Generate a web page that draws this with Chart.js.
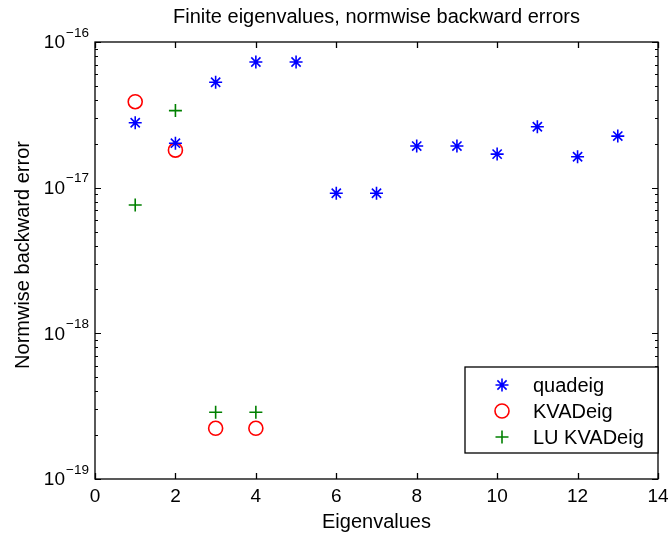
<!DOCTYPE html>
<html>
<head>
<meta charset="utf-8">
<script src="https://cdn.jsdelivr.net/npm/chart.js@4.4.0/dist/chart.umd.min.js"></script>
<style>
  body { margin: 0; background: #fff; }
  #wrap { width: 670px; height: 534px; }
</style>
</head>
<body>
<div id="wrap"><canvas id="errs"></canvas></div>
<script>
// data
var eigIdx = [1, 2, 3, 4, 5, 6, 7, 8, 9, 10, 11, 12, 13]
var quadeigErr = [2.79e-17, 2.02e-17, 5.29e-17, 7.29e-17, 7.29e-17, 9.15e-18, 9.15e-18, 1.93e-17, 1.93e-17, 1.70e-17, 2.62e-17, 1.63e-17, 2.26e-17]
var kvaIdx = [1, 2, 3, 4]
var kvadeigErr = [3.89e-17, 1.81e-17, 2.23e-19, 2.23e-19]
var luKvadeigErr = [7.6e-18, 3.38e-17, 2.87e-19, 2.87e-19]
var xTicks = [0, 2, 4, 6, 8, 10, 12, 14]
var yDecades = [-19, -18, -17, -16]
var seriesNames = ['quadeig', 'KVADeig', 'LU KVADeig']

var FONT = '"Liberation Sans", Arial, Helvetica, sans-serif'

function pts(xs, ys) {
	var out = []
	for (var i = 0; i < xs.length; i++) out.push({ x: xs[i], y: ys[i] })
	return out
}

// draw a marker the same way the datasets look (used for the legend)
function marker(ctx, style, color, x, y, r) {
	ctx.save()
	ctx.strokeStyle = color
	ctx.lineWidth = 1.6
	ctx.beginPath()
	if (style == 'circle') {
		ctx.arc(x, y, r, 0, Math.PI * 2)
	} else {
		ctx.moveTo(x - r, y); ctx.lineTo(x + r, y)
		ctx.moveTo(x, y - r); ctx.lineTo(x, y + r)
		if (style == 'star') {
			var d = r * Math.SQRT1_2
			ctx.moveTo(x - d, y - d); ctx.lineTo(x + d, y + d)
			ctx.moveTo(x - d, y + d); ctx.lineTo(x + d, y - d)
		}
	}
	ctx.stroke()
	ctx.restore()
}

var matlabAxes = {
	id: 'matlabAxes',
	beforeDraw: function(chart) {
		var ctx = chart.ctx
		ctx.save()
		ctx.fillStyle = '#fff'
		ctx.fillRect(0, 0, chart.width, chart.height)
		ctx.restore()
	},
	afterDatasetsDraw: function(chart) {
		var ctx = chart.ctx
		var a = chart.chartArea
		var xs = chart.scales.x
		var ys = chart.scales.y
		ctx.save()
		ctx.strokeStyle = '#000'
		ctx.fillStyle = '#000'
		ctx.lineWidth = 1.3

		// x ticks, bottom and top, pointing inward
		xTicks.forEach(function(t) {
			var px = Math.round(xs.getPixelForValue(t)) + 0.5
			ctx.beginPath()
			ctx.moveTo(px, a.bottom); ctx.lineTo(px, a.bottom - 6)
			ctx.moveTo(px, a.top); ctx.lineTo(px, a.top + 6)
			ctx.stroke()
		})

		// y ticks (major + minor), left and right
		ctx.lineWidth = 1
		yDecades.forEach(function(d) {
			var mMax = d == yDecades[yDecades.length - 1] ? 1 : 9
			for (var m = 1; m <= mMax; m++) {
				var py = Math.round(ys.getPixelForValue(m * Math.pow(10, d))) + 0.5
				var len = m == 1 ? 6 : 3
				ctx.beginPath()
				ctx.moveTo(a.left, py); ctx.lineTo(a.left + len, py)
				ctx.moveTo(a.right, py); ctx.lineTo(a.right - len, py)
				ctx.stroke()
			}
		})

		// box
		ctx.lineWidth = 1.3
		ctx.strokeRect(a.left, a.top, a.right - a.left, a.bottom - a.top)

		// x tick labels
		ctx.font = '19px ' + FONT
		ctx.textAlign = 'center'
		ctx.textBaseline = 'middle'
		xTicks.forEach(function(t) {
			ctx.fillText(String(t), xs.getPixelForValue(t), a.bottom + 18)
		})

		// y tick labels 10^n
		yDecades.forEach(function(d) {
			var py = ys.getPixelForValue(Math.pow(10, d))
			ctx.font = '19px ' + FONT
			ctx.textAlign = 'right'
			ctx.fillText('10', a.left - 30, py + 1)
			ctx.font = '13.5px ' + FONT
			ctx.textAlign = 'left'
			ctx.fillText('\u2212' + Math.abs(d), a.left - 29, py - 9)
		})

		// titles
		var cx = (a.left + a.right) / 2
		ctx.font = '20px ' + FONT
		ctx.textAlign = 'center'
		ctx.fillText('Finite eigenvalues, normwise backward errors', cx, 17)
		ctx.fillText('Eigenvalues', cx, a.bottom + 43)
		ctx.save()
		ctx.translate(23.5, 255)
		ctx.rotate(-Math.PI / 2)
		ctx.fillText('Normwise backward error', 0, 0)
		ctx.restore()

		// legend
		var lx = 465, ly = 367, lw = a.right - lx, lh = 86
		ctx.fillStyle = '#fff'
		ctx.fillRect(lx, ly, lw, lh)
		ctx.lineWidth = 1.3
		ctx.strokeRect(lx, ly, lw, lh)
		var rows = [['star', '#0000ff'], ['circle', '#ff0000'], ['cross', '#008000']]
		ctx.fillStyle = '#000'
		ctx.font = '20px ' + FONT
		ctx.textAlign = 'left'
		for (var i = 0; i < rows.length; i++) {
			var ry = ly + 18 + i * 26
			marker(ctx, rows[i][0], rows[i][1], 502, ry, rows[i][0] == 'circle' ? 7 : 6.5)
			ctx.fillText(seriesNames[i], 533, ry + 1)
		}
		ctx.restore()
	}
}

var errChart = new Chart(document.getElementById('errs').getContext('2d'), {
	type: 'scatter',
	data: {
		datasets: [{
			label: seriesNames[0],
			data: pts(eigIdx, quadeigErr),
			pointStyle: 'star',
			pointRadius: 6.5,
			borderColor: '#0000ff',
			backgroundColor: 'rgba(0,0,0,0)',
			pointBorderWidth: 1.6
		}, {
			label: seriesNames[1],
			data: pts(kvaIdx, kvadeigErr),
			pointStyle: 'circle',
			pointRadius: 7,
			borderColor: '#ff0000',
			backgroundColor: 'rgba(0,0,0,0)',
			pointBorderWidth: 1.6
		}, {
			label: seriesNames[2],
			data: pts(kvaIdx, luKvadeigErr),
			pointStyle: 'cross',
			pointRadius: 6.5,
			borderColor: '#008000',
			backgroundColor: 'rgba(0,0,0,0)',
			pointBorderWidth: 1.6
		}]
	},
	options: {
		responsive: true,
		maintainAspectRatio: false,
		animation: false,
		events: [],
		layout: { padding: { left: 95, top: 42, right: 12, bottom: 55 } },
		scales: {
			x: { type: 'linear', min: 0, max: 14, display: false },
			y: { type: 'logarithmic', min: 1e-19, max: 1e-16, display: false }
		},
		plugins: {
			legend: { display: false },
			tooltip: { enabled: false }
		}
	},
	plugins: [matlabAxes]
})
</script>
</body>
</html>
